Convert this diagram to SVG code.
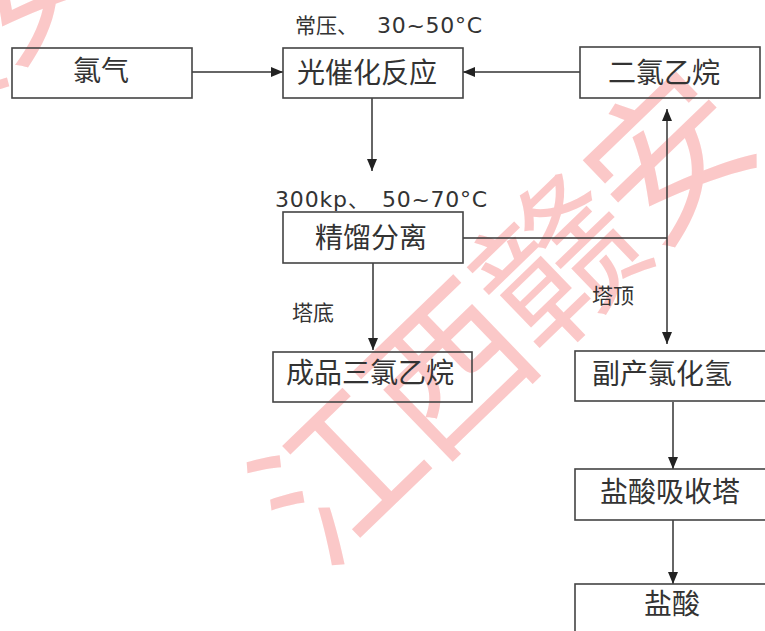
<svg xmlns="http://www.w3.org/2000/svg" width="765" height="631" viewBox="0 0 765 631">
<style>
.box{fill:none;stroke:#444;stroke-width:1.6}
.lbl{font-family:"DejaVu Sans","Noto Sans CJK SC",sans-serif;fill:#333}
.cj{font-family:"Noto Sans CJK SC",sans-serif;fill:#333}
.t{font-family:"Noto Sans CJK SC",sans-serif;font-size:28px;fill:#333;text-anchor:middle}
.c{fill:none;stroke:#333;stroke-width:1.5}
.wm{font-family:"Noto Sans CJK SC",sans-serif;font-size:158px;font-weight:normal;fill:#fbc8c8;text-anchor:middle;letter-spacing:-5px}
</style>
<defs>
<marker id="ah" markerUnits="userSpaceOnUse" markerWidth="13" markerHeight="11" refX="12" refY="5" orient="auto">
<path d="M0,0 L12,5 L0,10 z" fill="#222"/>
</marker>
</defs>
<rect width="765" height="631" fill="#fff"/>
<g id="watermark">
<text class="wm" transform="translate(500,316) rotate(-44)" x="0" y="60">江西赣安</text>
<text class="wm" transform="translate(-147,136) rotate(-44)" x="0" y="60">江西赣安</text>
</g>
<g id="connectors">
<path class="c" d="M192,72 H283" marker-end="url(#ah)"/>
<path class="c" d="M580,72 H463" marker-end="url(#ah)"/>
<path class="c" d="M372,98 V171" marker-end="url(#ah)"/>
<path class="c" d="M463,238 H667"/>
<path class="c" d="M667,238 V109" marker-end="url(#ah)"/>
<path class="c" d="M667,238 V344" marker-end="url(#ah)"/>
<path class="c" d="M373,263 V350" marker-end="url(#ah)"/>
<path class="c" d="M673,402 V469" marker-end="url(#ah)"/>
<path class="c" d="M673,520 V584" marker-end="url(#ah)"/>
</g>
<g id="n-chlorine">
<rect class="box" x="12" y="48" width="180" height="50"/>
<text class="t" x="101" y="81">氯气</text>
</g>
<g id="n-reaction">
<rect class="box" x="283" y="48" width="180" height="50"/>
<text class="t" x="367" y="83">光催化反应</text>
</g>
<g id="n-dichloroethane">
<rect class="box" x="580" y="47" width="180" height="51"/>
<text class="t" x="664" y="83">二氯乙烷</text>
</g>
<g id="n-distill">
<rect class="box" x="283" y="212" width="180" height="51"/>
<text class="t" x="371" y="248">精馏分离</text>
</g>
<g id="n-product">
<rect class="box" x="273" y="352" width="199" height="50"/>
<text class="t" x="370" y="383">成品三氯乙烷</text>
</g>
<g id="n-hcl">
<rect class="box" x="575" y="351" width="200" height="50"/>
<text class="t" x="592" y="384" style="text-anchor:start">副产氯化氢</text>
</g>
<g id="n-absorber">
<rect class="box" x="575" y="469" width="200" height="51"/>
<text class="t" x="670" y="502">盐酸吸收塔</text>
</g>
<g id="n-acid">
<rect class="box" x="575" y="584" width="200" height="60"/>
<text class="t" x="672" y="614">盐酸</text>
</g>
<g id="labels">
<text class="cj" x="295" y="33" font-size="21">常压、</text>
<text class="lbl" x="377" y="33" font-size="22" textLength="105">30~50°C</text>
<text class="lbl" x="275" y="207" font-size="22" textLength="72">300kp</text>
<text class="cj" x="348" y="207" font-size="21">、</text>
<text class="lbl" x="382" y="207" font-size="22" textLength="105">50~70°C</text>
<text class="cj" x="292" y="320" font-size="21">塔底</text>
<text class="cj" x="592" y="303" font-size="21">塔顶</text>
</g>
</svg>
